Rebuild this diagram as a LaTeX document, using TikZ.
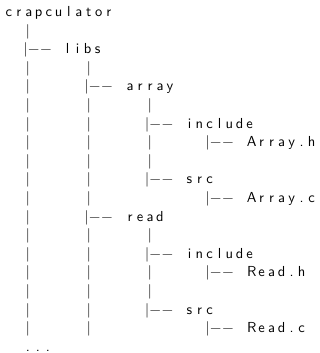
\documentclass[tikz,border=0pt]{standalone}
\usepackage{fontspec}
\newfontfamily\treesans{lmsans10-regular.otf}
\newlength\cellw
\setlength\cellw{10pt}
% every character of a name sits centred in a cell of fixed width
\def\cellsloop#1{\ifx#1\relax\else\makebox[\cellw][c]{#1}\expandafter\cellsloop\fi}
\newcommand\cells[1]{\cellsloop#1\relax}
% baseline of tree row n
\newcommand\ry[1]{-16.5-18.6*(#1-1)}
\tikzset{
  treetext/.style={inner sep=0pt, outer sep=0pt, font=\treesans\fontsize{14.5}{17}\selectfont},
  entry/.style={treetext, anchor=base west},
  vbar/.style={treetext, anchor=base},
  tee/.style={treetext, anchor=base west, xshift=-2pt},
}
\newcommand\teetext{|\kern0.5pt\symbol{"2212}\kern1pt\symbol{"2212}}
\begin{document}
\begin{tikzpicture}[x=1pt, y=1pt]
\useasboundingbox (0,0) rectangle (320,-353);
\fill[white] (0,0) rectangle (320,-353);

% root
\node[entry] (root) at (3.75,{\ry{1}}) {\cells{crapculator}};
\node[vbar] (b2a) at (28,{\ry{2}}) {|};

% libs
\node[tee] (t3) at (25.5,{\ry{3}}) {\teetext};
\node[entry] (libs) at (62.6,{\ry{3}}) {\cells{libs}};
\node[vbar] (b4a) at (28,{\ry{4}}) {|};
\node[vbar] (b4b) at (89,{\ry{4}}) {|};

% libs/array
\node[vbar] (b5a) at (28,{\ry{5}}) {|};
\node[tee] (t5) at (86.5,{\ry{5}}) {\teetext};
\node[entry] (array) at (125,{\ry{5}}) {\cells{array}};
\node[vbar] (b6a) at (28,{\ry{6}}) {|};
\node[vbar] (b6b) at (89,{\ry{6}}) {|};
\node[vbar] (b6c) at (150,{\ry{6}}) {|};

\node[vbar] (b7a) at (28,{\ry{7}}) {|};
\node[vbar] (b7b) at (89,{\ry{7}}) {|};
\node[tee] (t7) at (147,{\ry{7}}) {\teetext};
\node[entry] (inca) at (184.5,{\ry{7}}) {\cells{include}};

\node[vbar] (b8a) at (28,{\ry{8}}) {|};
\node[vbar] (b8b) at (89,{\ry{8}}) {|};
\node[vbar] (b8c) at (150,{\ry{8}}) {|};
\node[tee] (t8) at (207.5,{\ry{8}}) {\teetext};
\node[entry] (arrh) at (246.7,{\ry{8}}) {\cells{Array.h}};

\node[vbar] (b9a) at (28,{\ry{9}}) {|};
\node[vbar] (b9b) at (89,{\ry{9}}) {|};
\node[vbar] (b9c) at (150,{\ry{9}}) {|};

\node[vbar] (b10a) at (28,{\ry{10}}) {|};
\node[vbar] (b10b) at (89,{\ry{10}}) {|};
\node[tee] (t10) at (147,{\ry{10}}) {\teetext};
\node[entry] (srca) at (184.5,{\ry{10}}) {\cells{src}};

\node[vbar] (b11a) at (28,{\ry{11}}) {|};
\node[vbar] (b11b) at (89,{\ry{11}}) {|};
\node[tee] (t11) at (207.5,{\ry{11}}) {\teetext};
\node[entry] (arrc) at (246.7,{\ry{11}}) {\cells{Array.c}};

% libs/read
\node[vbar] (b12a) at (28,{\ry{12}}) {|};
\node[tee] (t12) at (86.5,{\ry{12}}) {\teetext};
\node[entry] (read) at (125,{\ry{12}}) {\cells{read}};
\node[vbar] (b13a) at (28,{\ry{13}}) {|};
\node[vbar] (b13b) at (89,{\ry{13}}) {|};
\node[vbar] (b13c) at (150,{\ry{13}}) {|};

\node[vbar] (b14a) at (28,{\ry{14}}) {|};
\node[vbar] (b14b) at (89,{\ry{14}}) {|};
\node[tee] (t14) at (147,{\ry{14}}) {\teetext};
\node[entry] (incr) at (184.5,{\ry{14}}) {\cells{include}};

\node[vbar] (b15a) at (28,{\ry{15}}) {|};
\node[vbar] (b15b) at (89,{\ry{15}}) {|};
\node[vbar] (b15c) at (150,{\ry{15}}) {|};
\node[tee] (t15) at (207.5,{\ry{15}}) {\teetext};
\node[entry] (readh) at (246.7,{\ry{15}}) {\cells{Read.h}};

\node[vbar] (b16a) at (28,{\ry{16}}) {|};
\node[vbar] (b16b) at (89,{\ry{16}}) {|};
\node[vbar] (b16c) at (150,{\ry{16}}) {|};

\node[vbar] (b17a) at (28,{\ry{17}}) {|};
\node[vbar] (b17b) at (89,{\ry{17}}) {|};
\node[tee] (t17) at (147,{\ry{17}}) {\teetext};
\node[entry] (srcr) at (184.5,{\ry{17}}) {\cells{src}};

\node[vbar] (b18a) at (28,{\ry{18}}) {|};
\node[vbar] (b18b) at (89,{\ry{18}}) {|};
\node[tee] (t18) at (207.5,{\ry{18}}) {\teetext};
\node[entry] (readc) at (246.7,{\ry{18}}) {\cells{Read.c}};

% continuation
\node[entry] (more) at (23,{\ry{19}}) {\cells{...}};
\end{tikzpicture}
\end{document}
